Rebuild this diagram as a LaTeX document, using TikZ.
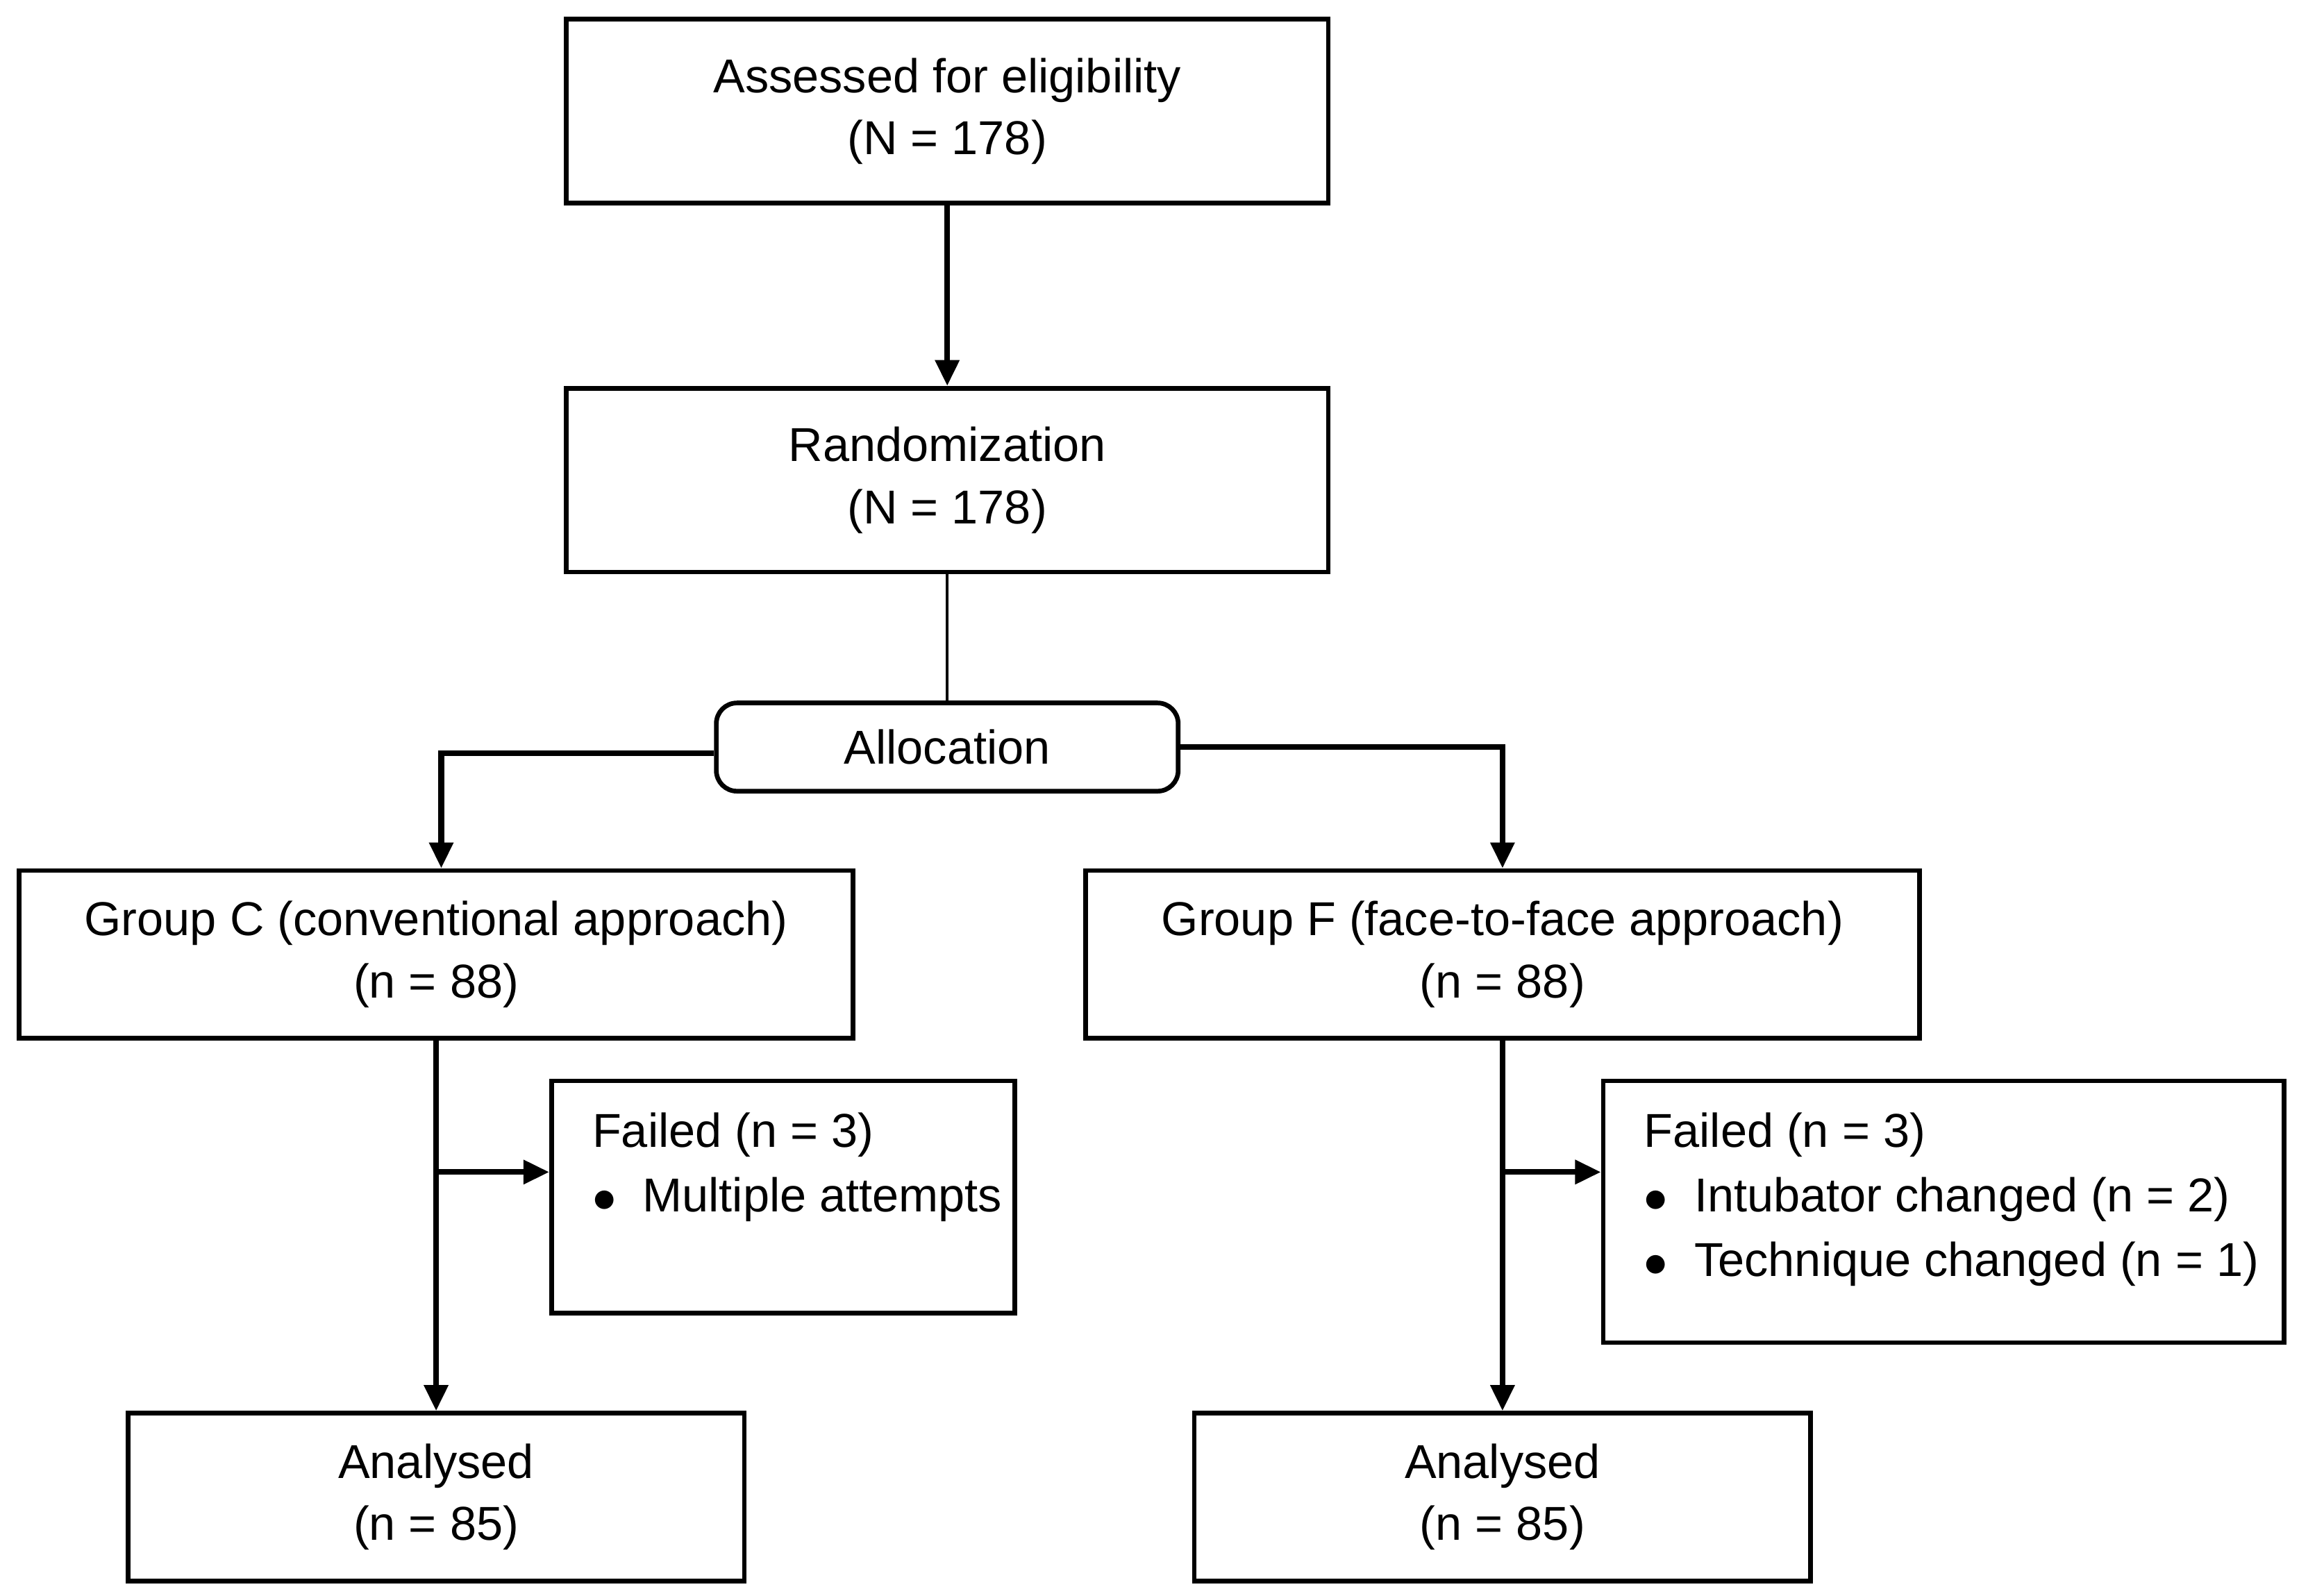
\documentclass[tikz,border=0pt]{standalone}
\usepackage{fontspec}
\setmainfont{Liberation Sans}
\usetikzlibrary{arrows.meta}
\begin{document}
\begin{tikzpicture}[x=1cm,y=-1cm,font=\fontsize{9.2pt}{12pt}\selectfont,
	stepbox/.style={draw, line width=0.9pt, align=center, inner sep=0pt},
	flow/.style={line width=1.1pt, -{Triangle[length=5pt,width=4.5pt]}}]
	\useasboundingbox (0,0) rectangle (15.63,10.85);
	% main column
	\node[stepbox, minimum width=5.18cm, minimum height=1.25cm] (assess) at (6.44,0.755) {Assessed for eligibility\\(N = 178)};
	\node[stepbox, minimum width=5.18cm, minimum height=1.25cm] (random) at (6.44,3.265) {Randomization\\(N = 178)};
	\node[stepbox, rounded corners=4pt, minimum width=3.14cm, minimum height=0.6cm] (alloc) at (6.44,5.08) {Allocation};
	\draw[flow] (assess) -- (random);
	\draw[line width=0.5pt] (random) -- (alloc);
	
	% group C
	\node[stepbox, minimum width=5.67cm, minimum height=1.14cm] (groupC) at (2.965,6.49) {Group C (conventional approach)\\(n = 88)};
	\node[stepbox, minimum width=3.15cm, minimum height=1.58cm] (failC) at (5.325,8.14) {};
	\node[anchor=north west, align=left, inner sep=0pt] (failCtxt) at (4.02,7.56) {Failed (n = 3)\\[0.5pt]$\bullet$\ \ Multiple attempts};
	\node[stepbox, minimum width=4.19cm, minimum height=1.14cm] (anaC) at (2.965,10.18) {Analysed\\(n = 85)};
	\coordinate (splitC) at (2.965,7.97);
	\draw[flow] (alloc.west |- 0,5.12) -| (groupC.north -| 3.0,0);
	\draw[flow] (groupC) -- (anaC);
	\draw[flow] (splitC) -- (splitC -| failC.west);
	
	% group F
	\node[stepbox, minimum width=5.67cm, minimum height=1.14cm] (groupF) at (10.215,6.49) {Group F (face-to-face approach)\\(n = 88)};
	\node[stepbox, minimum width=4.63cm, minimum height=1.78cm] (failF) at (13.215,8.24) {};
	\node[anchor=north west, align=left, inner sep=0pt] (failFtxt) at (11.17,7.56) {Failed (n = 3)\\[0.5pt]$\bullet$\ \ Intubator changed (n = 2)\\[0.5pt]$\bullet$\ \ Technique changed (n = 1)};
	\node[stepbox, minimum width=4.19cm, minimum height=1.14cm] (anaF) at (10.215,10.18) {Analysed\\(n = 85)};
	\coordinate (splitF) at (10.215,7.97);
	\draw[flow] (alloc.east |- 0,5.08) -| (groupF.north);
	\draw[flow] (groupF) -- (anaF);
	\draw[flow] (splitF) -- (splitF -| failF.west);
\end{tikzpicture}
\end{document}
